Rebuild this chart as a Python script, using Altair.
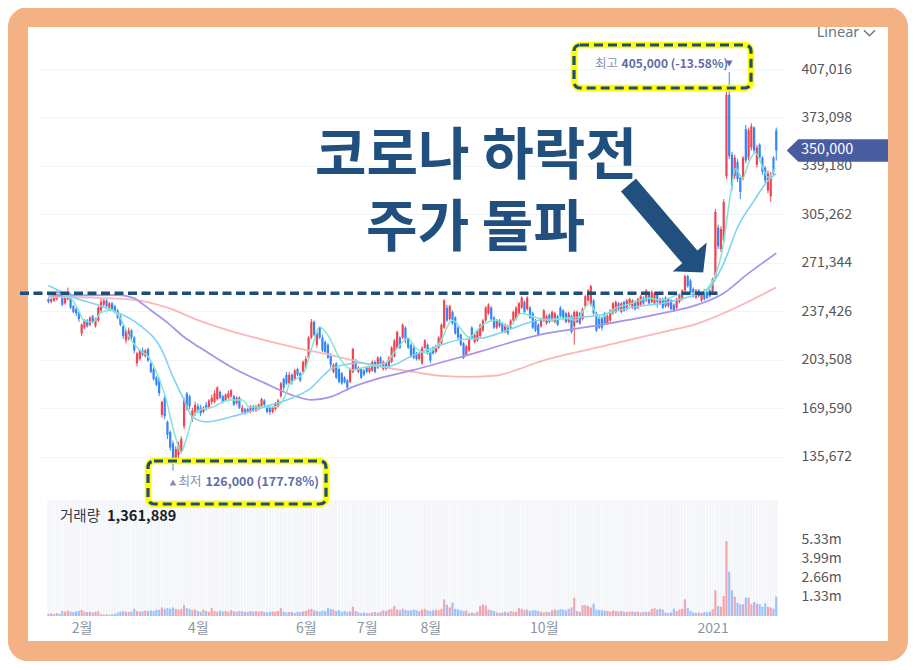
import altair as alt
import pandas as pd

FONT = "Noto Sans CJK KR"

# ---------------- data (prices in thousand KRW, volume in millions) ----------------
OPEN = [246,244,245,246,251,249,243,246,249,241,239,237,
        222,226,231,228,234,227,231,238,242,245,240,243,241,238,234,227,217,218,224,219,
        201,204,210,206,211,201,197,191,190,165,177,160,153,145,134,137,140,157,180,178,162,166,
        171,170,167,172,170,174,174,176,181,178,175,177,178,178,173,177,167,169,169,167,
        171,168,169,171,175,170,170,167,169,171,178,190,193,187,193,190,197,194,195,
        198,205,219,230,214,226,219,216,214,207,195,201,197,194,191,189,188,195,203,195,197,196,
        198,195,196,202,198,205,197,201,198,202,206,212,219,219,226,218,214,212,208,204,201,212,214,
        209,212,209,212,215,226,240,232,237,233,226,221,215,207,210,226,216,217,220,224,
        231,236,240,233,226,231,229,223,227,226,231,232,236,240,244,239,240,236,231,228,227,
        231,229,235,231,230,234,240,238,236,230,234,227,230,236,232,241,245,242,245,
        236,233,233,236,229,231,236,237,243,237,244,239,242,240,244,240,242,247,245,249,244,
        243,249,243,246,247,241,245,242,240,244,246,252,262,259,253,247,252,245,252,251,252,
        250,262,296,281,287,332,389,347,332,342,331,331,365,345,352,366,340,354,345,338,322,318,345,364]
CLOSE = [244,246,247,251,249,242,247,250,240,237,236,232,
         228,231,227,233,230,232,240,244,245,241,243,239,237,233,228,220,224,224,219,210,
         208,210,207,210,203,195,190,186,180,174,164,151,142,134,141,144,148,175,170,171,168,172,
         168,166,170,169,175,177,180,184,177,174,179,180,182,172,177,170,170,166,167,171,
         168,171,172,176,172,167,167,170,173,175,187,184,187,193,188,196,193,189,202,
         204,219,230,221,222,219,210,209,205,200,200,191,188,187,188,184,197,211,197,198,191,193,
         195,198,202,195,205,200,202,197,205,212,217,223,212,228,218,212,206,205,204,208,212,217,208,
         203,208,213,219,228,245,231,241,229,222,219,214,205,213,218,219,221,224,228,231,
         240,242,232,226,231,227,223,228,222,231,237,240,243,247,237,247,233,226,224,221,232,
         238,234,230,237,236,228,234,232,230,236,223,237,237,229,239,248,252,255,236,
         224,226,226,229,234,238,243,244,239,243,238,245,246,245,239,246,248,243,252,243,251,
         250,244,246,240,241,246,239,238,246,249,252,262,255,251,248,252,248,249,246,247,248,
         260,307,283,295,314,389,346,325,345,330,321,345,343,364,367,350,352,345,335,329,334,333,335,350]
HIGH = [247,247,248,252,252,250,248,254,250,242,240,237,
        229,232,232,234,235,233,241,246,246,246,244,244,242,239,235,228,225,226,225,220,
        209,211,212,211,212,202,198,192,191,175,178,161,154,147,143,146,150,177,181,179,170,174,
        173,172,171,174,176,179,182,185,182,179,180,182,183,179,178,178,172,170,170,172,
        172,172,173,177,176,171,171,171,174,176,188,191,195,195,194,197,198,195,203,
        206,220,232,231,223,227,221,217,215,208,201,202,198,195,192,190,198,212,204,199,198,197,
        199,199,203,203,206,206,203,202,206,213,218,224,220,229,227,219,215,213,209,209,213,218,215,
        210,213,214,220,229,246,242,242,238,234,227,222,216,214,219,227,222,225,229,232,
        241,243,241,234,232,232,230,229,228,232,238,241,244,248,245,248,241,237,232,229,233,
        239,235,236,238,237,235,241,239,237,237,235,238,238,237,240,249,253,256,246,
        237,234,234,237,235,239,244,245,244,244,245,246,247,246,245,247,249,248,253,250,252,
        251,250,247,247,248,247,246,243,247,250,253,263,263,260,254,253,253,250,253,252,253,
        261,309,298,297,316,391,405,349,347,344,333,346,368,366,369,367,354,355,346,339,336,335,346,366]
LOW = [243,243,244,245,248,241,242,245,239,236,234,230,
       220,225,226,227,229,226,230,237,241,240,239,238,236,232,227,218,215,217,218,208,
       199,203,206,205,202,194,189,185,178,163,162,148,140,126,131,134,138,155,168,169,160,164,
       166,164,166,168,169,172,173,175,176,173,174,176,177,171,172,169,166,165,166,166,
       167,167,168,170,171,166,165,166,168,170,177,182,186,186,186,189,192,188,194,
       197,204,218,220,212,218,209,208,204,198,194,190,187,186,187,182,187,194,196,194,190,192,
       194,194,195,194,197,199,196,196,197,201,205,211,211,218,215,211,205,204,203,203,200,211,207,
       201,207,208,211,214,225,230,231,228,221,218,213,204,206,209,218,215,216,219,223,
       230,235,231,225,225,226,222,222,221,225,230,231,235,239,236,238,232,225,223,220,226,
       230,228,229,230,229,227,233,231,229,229,222,214,229,228,231,240,244,241,235,
       223,225,224,228,228,230,235,236,238,236,237,238,241,239,238,239,241,242,244,242,243,
       242,240,242,239,240,240,238,237,239,243,245,251,254,250,247,246,247,244,245,246,247,
       249,261,281,279,285,330,344,322,330,328,316,329,341,343,350,348,338,343,333,327,320,314,333,343]
VOLUME = [0.15,0.18,0.12,0.2,0.15,0.35,0.3,0.38,0.3,0.28,0.32,0.35,
          0.42,0.3,0.28,0.3,0.25,0.3,0.33,0.12,0.1,0.12,0.08,0.12,0.15,0.25,0.3,0.35,0.3,0.28,0.32,0.5,
          0.35,0.3,0.32,0.38,0.35,0.4,0.35,0.45,0.42,0.6,0.5,0.55,0.5,0.6,0.5,0.45,0.5,0.77,0.55,0.5,0.4,0.45,
          0.35,0.3,0.45,0.35,0.3,0.55,0.35,0.3,0.38,0.32,0.35,0.3,0.4,0.33,0.3,0.35,0.32,0.3,0.28,0.35,
          0.3,0.33,0.3,0.35,0.28,0.25,0.3,0.32,0.3,0.35,0.55,0.3,0.25,0.28,0.3,0.22,0.3,0.28,0.32,
          0.35,0.45,0.5,0.4,0.35,0.3,0.38,0.35,0.55,0.5,0.45,0.35,0.4,0.3,0.35,0.3,0.32,0.65,0.35,0.25,0.2,0.25,
          0.22,0.2,0.25,0.28,0.22,0.3,0.4,0.35,0.45,0.5,0.7,0.45,0.4,0.5,0.42,0.38,0.4,0.45,0.4,0.35,0.45,0.5,0.4,
          0.35,0.4,0.45,0.4,0.5,1.17,0.8,0.6,0.93,0.5,0.45,0.4,0.35,0.4,0.2,0.25,0.2,0.3,0.7,0.8,
          0.75,0.45,0.4,0.35,0.25,0.22,0.25,0.3,0.25,0.35,0.3,0.3,0.55,0.5,0.4,0.45,0.35,0.4,0.4,0.35,0.3,
          0.25,0.3,0.28,0.4,0.45,0.4,0.5,0.45,0.4,0.5,0.6,1.28,0.35,0.3,0.75,0.77,0.7,0.6,0.86,
          0.45,0.42,0.4,0.38,0.35,0.3,0.38,0.35,0.32,0.35,0.3,0.28,0.3,0.32,0.28,0.3,0.25,0.3,0.28,0.3,0.5,
          0.55,0.45,0.5,0.45,0.25,0.22,0.25,0.5,0.35,0.45,0.5,1.17,0.55,0.35,0.25,0.22,0.25,0.2,0.28,0.25,0.3,
          0.47,1.8,0.7,0.65,1.4,5.24,3.1,1.8,1.35,0.93,0.82,0.82,1.28,1.28,0.82,0.98,0.86,0.82,0.65,0.89,0.65,0.6,0.51,1.36]

# moving averages (index, thousand KRW)
MA5_IDX = [0,2,8,10.5,12.7,16.2,18.7,22.3,25.8,29.4,33,36.5,40.1,42.6,44,46.2,47.9,49.7,52.2,54.7,
           59.4,65.4,70.1,72.5,77.2,81.8,85.4,87,92.2,95.7,97.9,101.4,105,110,114.6,121.7,126.4,129.9,
           132.4,136.7,141.3,146,152,156.7,161.7,166.3,170.9,175.9,181.3,187,190.6,195.5,199.1,204.8,
           210.9,216.9,221.6,229.4,235.1,240.1,243.7,246.5,248.3,250.8,252.9,255.4,260.1,262.6]
MA5_VAL = [246.5,250,246.6,239.6,231.2,229.8,236.1,238.2,233.3,218.7,210.3,204.7,189.4,175.4,163.6,
           147.5,138.5,147.5,163.6,168.5,170.5,175.4,175.4,170.5,170.5,170.5,177.5,185.9,194.3,215.2,
           226.4,219.4,205.4,196.4,198.5,201.2,212.4,218.7,212.4,208.2,215.2,231.2,219.4,227.7,231.2,
           226.4,236.1,233.3,231.2,232.6,231.2,243.1,232.6,239.6,243.1,246.6,245.2,250.1,250.1,259.1,
           282.2,319.8,337.3,330.3,340.7,348.4,331,338]
MA20_IDX = [0,9,21,33,41,45,49,52,57,66,78,88,94,103,113,122,132,140,148,157,166,177,187,199,211,
            222,231,238,244,249,255,260,263]
MA20_VAL = [255.5,247.3,239.6,227.7,210.3,191.5,175.4,163.6,160.1,163.6,170.5,176.8,182.4,198.0,
            201.2,198.5,206.8,212.4,217.3,218.7,224.3,231.2,232.6,234.7,240.3,243.1,247.3,252.2,
            271.0,296.1,314.9,328.9,333.8]
MA60_IDX = [0,25,31,33,37,43,49,55,66,78,90,95,102,110,120,132,154,177,199,222,234,244,252,263]
MA60_VAL = [248.5,248.7,246.6,244.0,238.2,229.5,219.4,211.7,198.5,187.3,177.5,175.4,177.5,184.5,
            190.8,196.4,208.2,220.8,227.7,236.1,241.7,250.1,262.6,278.0]
MA120_IDX = [0,15,31,43,55,66,78,90,102,117,132,142,152,162,170,177,199,222,234,248,263]
MA120_VAL = [247.5,247.0,245.5,240.0,230.5,223.5,217.3,211.7,206.8,199.8,195.0,192.2,191.5,192.5,
             197.0,201.9,212.4,222.9,228.5,239.6,254.2]

MONTH_IDX = [12, 54, 93, 115, 138, 179, 240]
MONTH_LABELS = ["2월", "4월", "6월", "7월", "8월", "10월", "2021"]
PRICE_TICKS = [135672, 169590, 203508, 237426, 271344, 305262, 339180, 373098, 407016]
VOL_TICKS = [1.33, 2.66, 3.99, 5.33]
VOL_TICK_LABELS = ["1.33m", "2.66m", "3.99m", "5.33m"]
PRE_COVID_PRICE = 250000
LAST_VOLUME_TEXT = "1,361,889"
TITLE_1 = "코로나 하락전"
TITLE_2 = "주가 돌파"

n = len(CLOSE)
lens = [len(a) for a in (OPEN, HIGH, LOW, CLOSE, VOLUME)]
assert len(set(lens)) == 1, lens

df = pd.DataFrame({
    "idx": list(range(n)),
    "open": [v * 1000 for v in OPEN],
    "close": [v * 1000 for v in CLOSE],
    "high": [v * 1000 for v in HIGH],
    "low": [v * 1000 for v in LOW],
    "vol": VOLUME,
})
df["dir"] = ["up" if c >= o else "down" for o, c in zip(OPEN, CLOSE)]

last_price = CLOSE[-1] * 1000
hi = max(HIGH) * 1000
lo = min(LOW) * 1000
hi_idx = HIGH.index(max(HIGH))
lo_idx = LOW.index(min(LOW))
hi_text = f"{hi:,} ({(last_price - hi) / hi * 100:.2f}%)"
lo_text = f"{lo:,} ({(last_price - lo) / lo * 100:.2f}%)"

def ma_df(ix, vals):
    return pd.DataFrame({"idx": ix, "val": [v * 1000 for v in vals]})

one = pd.DataFrame({"k": [0]})

# ---------------- scales / encodings ----------------
W, H = 745, 591
RED, BLUE = "#F04452", "#3485FA"
DARK = "#21507E"
ANN = "#5E6DA5"
ANN_LIGHT = "#8591B9"

label_expr = "".join(f"datum.value == {i} ? '{t}' : " for i, t in zip(MONTH_IDX, MONTH_LABELS)) + "''"
X = alt.X("idx:Q",
          scale=alt.Scale(domain=[-1.248, 264.35], nice=False, zero=False),
          axis=alt.Axis(values=MONTH_IDX, labelExpr=label_expr, title=None, grid=False,
                        ticks=False, tickSize=0, domain=False, labelPadding=5,
                        labelFontSize=14, labelColor="#8B95A1", labelFont=FONT,
                        labelOverlap=False))
PS = alt.Scale(domain=[24171, 437812], nice=False, zero=False)
VS = alt.Scale(domain=[0, 7.0], range=[591, 491], nice=False, zero=True)
CS = alt.Scale(domain=["up", "down"], range=[RED, BLUE])
PAXIS = alt.Axis(values=PRICE_TICKS, orient="right", format=",d", title=None, grid=True,
                 gridColor="#F2F4F6", gridWidth=1, ticks=False, tickSize=0, domain=False,
                 labelPadding=16, labelFontSize=14, labelColor="#555555", labelFont=FONT)

base = alt.Chart(df)

stripes = base.mark_rule(strokeWidth=2.2, color="#F3F5F9").encode(
    x=X, y=alt.value(475), y2=alt.value(591))

vol_bars = base.mark_bar(size=2.2, opacity=0.45).encode(
    x=X, y=alt.Y("vol:Q", scale=VS, axis=None),
    color=alt.Color("dir:N", scale=CS, legend=None))

wicks = base.mark_rule(strokeWidth=1).encode(
    x=X, y=alt.Y("low:Q", scale=PS, axis=PAXIS), y2="high:Q",
    color=alt.Color("dir:N", scale=CS, legend=None))

bodies = base.mark_bar(size=2.2).encode(
    x=X, y=alt.Y("open:Q", scale=PS, axis=None), y2="close:Q",
    color=alt.Color("dir:N", scale=CS, legend=None))

def ma_line(ix, vals, color, width=1.6):
    return alt.Chart(ma_df(ix, vals)).mark_line(
        color=color, strokeWidth=width, interpolate="monotone").encode(
        x=X, y=alt.Y("val:Q", scale=PS, axis=None))

ma120 = ma_line(MA120_IDX, MA120_VAL, "#F9B8B8", 1.8)
ma60 = ma_line(MA60_IDX, MA60_VAL, "#A895EA", 1.8)
ma20 = ma_line(MA20_IDX, MA20_VAL, "#7FD3F0", 1.6)
ma5 = ma_line(MA5_IDX, MA5_VAL, "#83E6CF", 1.5)

vol_lbl = alt.Chart(pd.DataFrame({"v": VOL_TICKS, "t": VOL_TICK_LABELS})).mark_text(
    align="left", baseline="middle", fontSize=14, color="#555555", font=FONT).encode(
    x=alt.value(761.5), y=alt.Y("v:Q", scale=VS, axis=None), text="t:N")

vol_title = alt.Chart(one).mark_text(
    align="left", baseline="middle", fontSize=14.5, color="#333D4B", font=FONT).encode(
    x=alt.value(20), y=alt.value(491.7), text=alt.value("거래량"))
vol_value = alt.Chart(one).mark_text(
    align="left", baseline="middle", fontSize=14.5, color="#191F28", font=FONT,
    fontWeight="bold").encode(
    x=alt.value(67), y=alt.value(491.7), text=alt.value(LAST_VOLUME_TEXT))

def dashed_box(x0, x1, y0, y1):
    yellow = alt.Chart(one).mark_rect(fill="white", fillOpacity=0, stroke="#FFFF00",
                                      strokeWidth=6.5, cornerRadius=6).encode(
        x=alt.value(x0), x2=alt.value(x1), y=alt.value(y0), y2=alt.value(y1))
    dash = alt.Chart(one).mark_rect(fill="white", fillOpacity=0, stroke="#1F4E79",
                                    strokeWidth=3.2, strokeDash=[9, 5], cornerRadius=6).encode(
        x=alt.value(x0), x2=alt.value(x1), y=alt.value(y0), y2=alt.value(y1))
    return [yellow, dash]

box_hi = dashed_box(534, 711, 20, 63)
box_lo = dashed_box(108, 286, 436, 479)

hi_val = alt.Chart(one).mark_text(align="right", baseline="middle", fontSize=12,
                                  color=ANN, font=FONT, fontWeight="bold").encode(
    x=alt.value(688), y=alt.value(38.5), text=alt.value(hi_text))
hi_lbl = alt.Chart(one).mark_text(align="right", baseline="middle", fontSize=12.5,
                                  color=ANN_LIGHT, font=FONT).encode(
    x=alt.value(578), y=alt.value(38.5), text=alt.value("최고"))
hi_tri = alt.Chart(pd.DataFrame({"idx": [hi_idx]})).mark_point(
    shape="triangle-down", size=45, filled=True, color=ANN, opacity=1).encode(
    x=X, y=alt.value(38.5))
lo_tri = alt.Chart(pd.DataFrame({"idx": [lo_idx]})).mark_point(
    shape="triangle-up", size=45, filled=True, color=ANN_LIGHT, opacity=1).encode(
    x=X, y=alt.value(457.5))
lo_lbl = alt.Chart(one).mark_text(align="right", baseline="middle", fontSize=12.5,
                                  color=ANN_LIGHT, font=FONT).encode(
    x=alt.value(161.5), y=alt.value(457.3), text=alt.value("최저"))
lo_val = alt.Chart(one).mark_text(align="left", baseline="middle", fontSize=12.5,
                                  color=ANN, font=FONT, fontWeight="bold").encode(
    x=alt.value(165.5), y=alt.value(457.3), text=alt.value(lo_text))

TAG_PATH = "M -1 0 L -0.773 -0.22 L 1 -0.22 L 1 0.22 L -0.773 0.22 Z"
tag_df = pd.DataFrame({"p": [last_price]})
tag = alt.Chart(tag_df).mark_point(shape=TAG_PATH, size=102 * 102, filled=True,
                                   color="#485D9F", opacity=1).encode(
    x=alt.value(797.7), y=alt.Y("p:Q", scale=PS, axis=None))
tag_text = alt.Chart(tag_df).mark_text(align="left", baseline="middle", fontSize=14.5,
                                       color="white", font=FONT).encode(
    x=alt.value(761), y=alt.Y("p:Q", scale=PS, axis=None), text=alt.Text("p:Q", format=",d"))

linear_txt = alt.Chart(one).mark_text(align="left", baseline="alphabetic", fontSize=14.5,
                                      color="#6B7684", font="Noto Sans").encode(
    x=alt.value(776.7), y=alt.value(11.5), text=alt.value("Linear"))
chevron = alt.Chart(one).mark_point(shape="M -1 -0.5 L 0 0.5 L 1 -0.5", size=121, filled=False,
                                    strokeWidth=1.5, color="#6B7684", opacity=1).encode(
    x=alt.value(829.5), y=alt.value(8))

frame = alt.Chart(one).mark_rect(fill="white", fillOpacity=0, stroke="#F4B183",
                                 strokeWidth=20, cornerRadius=10).encode(
    x=alt.value(-22), x2=alt.value(858), y=alt.value(-8), y2=alt.value(626))

dashed = alt.Chart(pd.DataFrame({"p": [PRE_COVID_PRICE]})).mark_rule(
    color="#1F4E79", strokeWidth=3.5, strokeDash=[9, 4.5]).encode(
    x=alt.value(-20), x2=alt.value(678), y=alt.Y("p:Q", scale=PS, axis=None))

def big_text(txt, x, y):
    return alt.Chart(one).mark_text(align="center", baseline="middle", fontSize=56,
                                    fontWeight="bold", font=FONT, color=DARK).encode(
        x=alt.value(x), y=alt.value(y), text=alt.value(txt))

ARROW_PATH = ("M -1 -0.19 L 0.6 -0.19 L 0.6 -0.43 L 1 0 "
              "L 0.6 0.43 L 0.6 0.19 L -1 0.19 Z")
arrow = alt.Chart(one).mark_point(shape=ARROW_PATH, size=118 * 118, angle=49.5, filled=True,
                                  fill=DARK, stroke="white", strokeWidth=2.5, opacity=1).encode(
    x=alt.value(626), y=alt.value(204))

layers = ([stripes, vol_bars, wicks, bodies, ma120, ma60, ma20, ma5, vol_lbl, vol_title, vol_value]
          + box_hi + box_lo + [hi_lbl, hi_val, hi_tri, lo_tri, lo_lbl, lo_val, tag, tag_text,
                               linear_txt, chevron, frame, dashed,
                               big_text(TITLE_1, 436, 132), big_text(TITLE_2, 435.5, 204), arrow])

chart = alt.layer(*layers).resolve_scale(y="independent").properties(
    width=W, height=H,
    padding={"left": 32, "top": 17, "right": 123, "bottom": 45},
    autosize=alt.AutoSizeParams(type="none"),
).configure_view(strokeWidth=0)

chart.save("out.html", embed_options={"renderer": "svg", "actions": False})
